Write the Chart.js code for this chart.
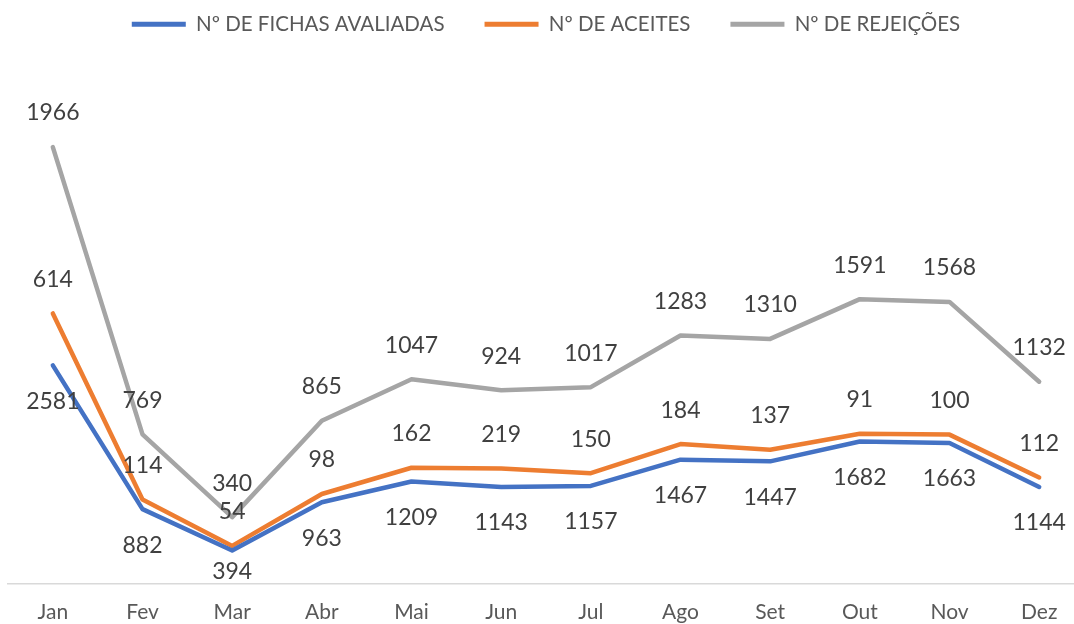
<!DOCTYPE html>
<html>
<head>
<meta charset="utf-8">
<script src="https://cdn.jsdelivr.net/npm/chart.js@4.4.1/dist/chart.umd.min.js"></script>
<style>
  html, body { margin: 0; padding: 0; background: #fff; overflow: hidden; }
  #wrap { width: 1090px; height: 624px; }
</style>
</head>
<body>
<div id="wrap"><canvas id="chart"></canvas></div>
<script>
// Monthly counts (stacked lines, as in the original spreadsheet chart)
const months = ['Jan', 'Fev', 'Mar', 'Abr', 'Mai', 'Jun', 'Jul', 'Ago', 'Set', 'Out', 'Nov', 'Dez'];
const fichasAvaliadas = [2581, 882, 394, 963, 1209, 1143, 1157, 1467, 1447, 1682, 1663, 1144];
const aceites = [614, 114, 54, 98, 162, 219, 150, 184, 137, 91, 100, 112];
const rejeicoes = [1966, 769, 340, 865, 1047, 924, 1017, 1283, 1310, 1591, 1568, 1132];

const FONT = 'Lato, "Open Sans", sans-serif';

// Draw the value of every point: first series below the line, others above
const valueLabels = {
  id: 'valueLabels',
  afterDatasetsDraw(chart) {
    const ctx = chart.ctx;
    const area = chart.chartArea;
    ctx.save();
    ctx.font = '23px ' + FONT;
    ctx.fillStyle = '#404040';
    ctx.textAlign = 'center';
    ctx.textBaseline = 'middle';
    chart.data.datasets.forEach((ds, di) => {
      const meta = chart.getDatasetMeta(di);
      meta.data.forEach((pt, i) => {
        let y = di === 0 ? pt.y + 36 : pt.y - 34;
        y = Math.min(y, area.bottom - 12);
        ctx.fillText(String(ds.data[i]), pt.x, y);
      });
    });
    ctx.restore();
  }
};

const lineStyle = {
  borderWidth: 4.5,
  pointRadius: 0,
  tension: 0,
  borderCapStyle: 'round',
  borderJoinStyle: 'round',
  fill: false
};

new Chart(document.getElementById('chart'), {
  type: 'line',
  data: {
    labels: months,
    datasets: [
      { label: 'Nº DE FICHAS AVALIADAS', data: fichasAvaliadas, borderColor: '#4472C4', backgroundColor: '#4472C4', ...lineStyle },
      { label: 'Nº DE ACEITES', data: aceites, borderColor: '#ED7D31', backgroundColor: '#ED7D31', ...lineStyle },
      { label: 'Nº DE REJEIÇÕES', data: rejeicoes, borderColor: '#A5A5A5', backgroundColor: '#A5A5A5', ...lineStyle }
    ]
  },
  options: {
    responsive: true,
    maintainAspectRatio: false,
    animation: false,
    layout: { padding: { left: 8, right: 6, top: -26, bottom: -17 } },
    plugins: {
      tooltip: { enabled: false },
      legend: {
        position: 'top',
        labels: {
          font: { family: FONT, size: 20.5 },
          color: '#595959',
          boxWidth: 54,
          boxHeight: 5,
          padding: 40,
          generateLabels(chart) {
            return chart.data.datasets.map((ds, i) => ({
              text: ds.label,
              fillStyle: ds.borderColor,
              strokeStyle: ds.borderColor,
              lineWidth: 0,
              fontColor: '#595959',
              datasetIndex: i
            }));
          }
        }
      }
    },
    scales: {
      x: {
        offset: true,
        grid: { display: false, drawTicks: false },
        border: { display: true, color: '#D9D9D9', width: 1.5 },
        ticks: { font: { family: FONT, size: 21 }, color: '#595959', padding: 16 }
      },
      y: {
        display: false,
        stacked: true,
        min: 0,
        max: 6373
      }
    }
  },
  plugins: [valueLabels]
});
</script>
</body>
</html>
